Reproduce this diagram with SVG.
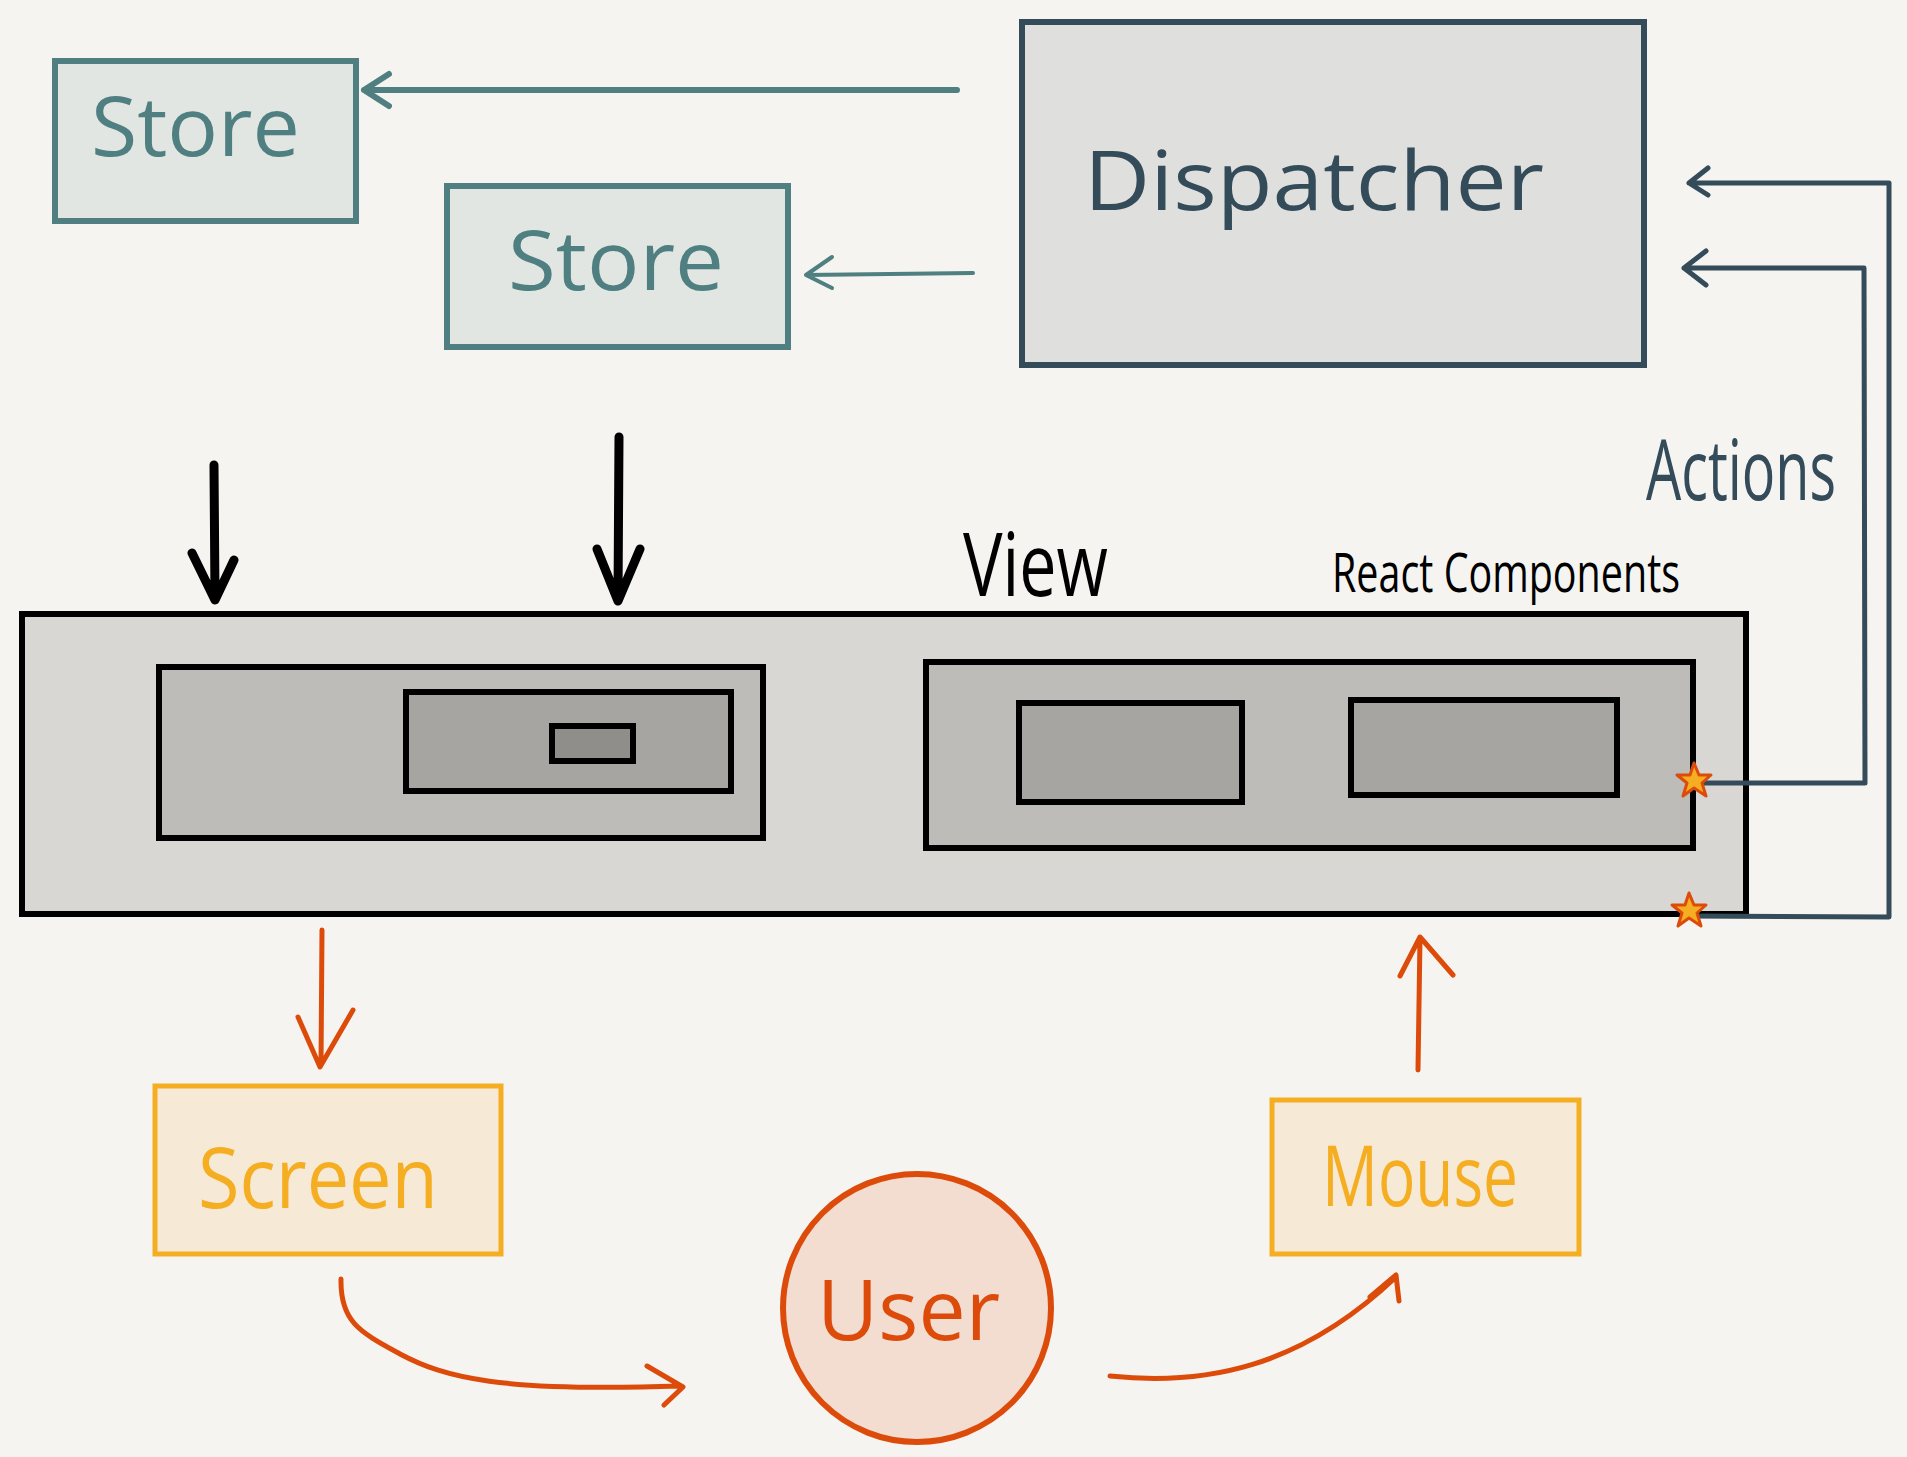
<svg xmlns="http://www.w3.org/2000/svg" width="1907" height="1457" viewBox="0 0 1907 1457">
<style>
text{font-family:"Open Sans","Liberation Sans",sans-serif;}
.store rect{fill:#e1e6e2;stroke:#4f7f80;stroke-width:6;}
.store text{fill:#4f7f80;font-size:82px;}
.disp rect{fill:#dfe0dd;stroke:#344b5a;stroke-width:6;}
.slate{fill:#344b5a;}
.vbox{stroke:#000;stroke-width:6;}
.l1{fill:#d8d7d3;}
.l2{fill:#bdbcb8;}
.l3{fill:#a6a5a1;}
.l4{fill:#8f8e8b;}
.io rect{fill:#f6ead6;stroke:#f5ae22;stroke-width:5;}
.io text{fill:#f5ae22;font-size:84px;}
.c{fill:none;stroke-linecap:round;stroke-linejoin:round;}
.teal{stroke:#4f7f80;}
.blk{stroke:#000;stroke-width:9;}
.org{stroke:#dd4b0b;stroke-width:5;}
.sl{stroke:#344b5a;stroke-width:5;}
.star{fill:#f5ae22;stroke:#dd4b0b;stroke-width:3;stroke-linejoin:round;}
</style>
<rect width="1907" height="1457" fill="#f5f4f0"/>

<g id="store1" class="store">
<rect x="55" y="61" width="301" height="160"/>
<text x="91" y="156" textLength="209" lengthAdjust="spacingAndGlyphs">Store</text>
</g>
<g id="store2" class="store">
<rect x="447" y="186" width="341" height="161"/>
<text x="508" y="290" textLength="216" lengthAdjust="spacingAndGlyphs">Store</text>
</g>
<g id="dispatcher" class="disp">
<rect x="1022" y="22" width="622" height="343"/>
<text class="slate" x="1084" y="210" font-size="82" textLength="460" lengthAdjust="spacingAndGlyphs">Dispatcher</text>
</g>
<g id="actions-label" transform="translate(1646,500) scale(1,1.2)">
<text class="slate" x="0" y="0" font-size="70" textLength="190" lengthAdjust="spacingAndGlyphs">Actions</text>
</g>

<g id="view">
<rect class="vbox l1" x="22" y="614" width="1724" height="300"/>
<text x="963" y="596" font-size="88" fill="#000" textLength="145" lengthAdjust="spacingAndGlyphs">View</text>
<text x="1332" y="592" font-size="54" fill="#000" textLength="348" lengthAdjust="spacingAndGlyphs">React Components</text>
</g>
<g id="view-left">
<rect class="vbox l2" x="159" y="667" width="604" height="171"/>
<rect class="vbox l3" x="406" y="692" width="325" height="99" stroke-width="5"/>
<rect class="vbox l4" x="552" y="726" width="81" height="35" stroke-width="4"/>
</g>
<g id="view-right">
<rect class="vbox l2" x="926" y="662" width="767" height="186"/>
<rect class="vbox l3" x="1019" y="703" width="223" height="99" stroke-width="5"/>
<rect class="vbox l3" x="1351" y="700" width="266" height="95" stroke-width="5"/>
</g>

<g id="screen" class="io">
<rect x="155" y="1086" width="346" height="168"/>
<text x="198" y="1208" textLength="240" lengthAdjust="spacingAndGlyphs">Screen</text>
</g>
<g id="mouse" class="io">
<rect x="1272" y="1100" width="307" height="154"/>
<text x="1322" y="1206" textLength="196" lengthAdjust="spacingAndGlyphs">Mouse</text>
</g>
<g id="user">
<circle cx="917" cy="1308" r="134" fill="#f2ddd0" stroke="#dd4b0b" stroke-width="6"/>
<text x="817" y="1340" font-size="84" fill="#dd4b0b" textLength="183" lengthAdjust="spacingAndGlyphs">User</text>
</g>

<g id="connectors">
<path class="c teal" stroke-width="6" d="M957,90 L364,90 M389,74 L364,90 L389,106"/>
<path class="c teal" stroke-width="4" d="M973,273 L806,275 M832,257 L806,275 L832,288"/>
<path class="c blk" d="M214,465 L215,598 M192,553 L215,600 L234,560"/>
<path class="c blk" d="M619,437 L618,598 M597,549 L618,601 L640,549"/>
<path class="c org" d="M322,930 L321,1065 M298,1017 L320,1067 L353,1010"/>
<path class="c org" d="M341,1279 C340,1322 360,1332 400,1354 C445,1378 500,1392 680,1386 M647,1366 L683,1387 L664,1405"/>
<path class="c org" d="M1110,1376 C1205,1386 1300,1368 1396,1277 M1370,1297 L1396,1275 L1399,1301"/>
<path class="c org" d="M1418,1070 L1420,938 M1400,976 L1420,937 L1453,975"/>
<path class="c sl" d="M1694,783 L1865,783 L1864,268 L1684,268 M1706,251 L1684,268 L1706,285"/>
<path class="c sl" d="M1689,916 L1889,917 L1889,183 L1689,183 M1708,168 L1689,183 L1708,195"/>
<polygon class="star" points="1694,763 1699,775 1711,775 1702,783 1706,796 1694,788 1683,796 1687,783 1677,775 1690,775"/>
<polygon class="star" points="1689,893 1694,905 1706,905 1697,913 1701,926 1689,918 1678,926 1682,913 1672,905 1685,905"/>
</g>
</svg>
